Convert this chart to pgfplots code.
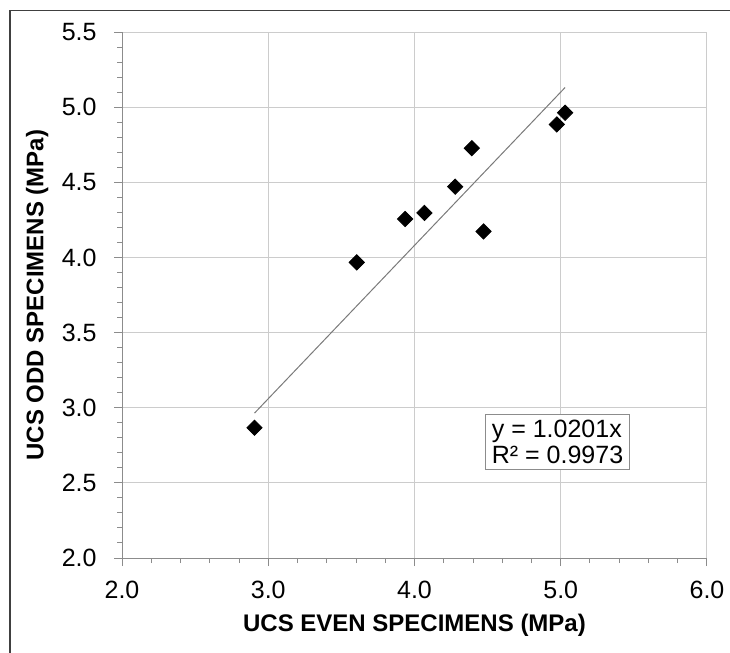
\documentclass[border=0pt]{standalone}
\usepackage{fontspec}
\setmainfont{Liberation Sans}
\usepackage{pgfplots}
\pgfplotsset{compat=1.18}
\definecolor{gridgray}{HTML}{CCCCCC}
\definecolor{axisgray}{HTML}{8C8C8C}
\definecolor{framegray}{HTML}{404040}
\definecolor{fitgray}{HTML}{7A7A7A}
\begin{document}
\fontsize{12}{14.4}\selectfont
\begin{tikzpicture}
\useasboundingbox (0,0) rectangle (365pt,-326.5pt);
\draw[framegray, line width=0.75pt] (5pt,-330pt) -- (5pt,-5.25pt) -- (370pt,-5.25pt);
\begin{axis}[
    at={(61pt,-279pt)}, anchor=south west,
    scale only axis, width=292.5pt, height=263pt,
    xmin=2, xmax=6, ymin=2, ymax=5.5,
    xtick={2,3,4,5,6}, ytick={2,2.5,3,3.5,4,4.5,5,5.5},
    minor x tick num=4, minor y tick num=4,
    axis x line*=bottom, axis y line*=left,
    axis line style={axisgray, line width=0.5pt, -},
    tick align=outside, tick style={axisgray, line width=0.5pt},
    major tick length=4pt, minor tick length=2.5pt,
    grid=major, major grid style={gridgray, line width=0.5pt},
    /pgf/number format/assume math mode=true,
    xticklabel={\pgfmathprintnumber[fixed,fixed zerofill,precision=1]{\tick}},
    yticklabel={\pgfmathprintnumber[fixed,fixed zerofill,precision=1]{\tick}},
    tick label style={font=\fontsize{12.5}{15}\selectfont},
    xticklabel style={anchor=north, inner sep=0pt, yshift=-7.5pt},
    yticklabel style={anchor=east, inner sep=0pt, xshift=-8.5pt},
    xlabel={\bfseries UCS EVEN SPECIMENS (MPa)},
    ylabel={\bfseries UCS ODD SPECIMENS (MPa)},
    xlabel style={at={(axis description cs:0.5,-0.1388)}, anchor=base, inner sep=0pt},
    ylabel style={at={(axis description cs:-0.1344,0.5)}, anchor=base, inner sep=0pt},
    clip=false,
]
\addplot[fitgray, line width=0.5pt] coordinates {(2.906,2.964) (5.030,5.131)};
\addplot[only marks, mark=square*, mark size=2.7pt, mark options={rotate=45, fill=black, draw=black}]
coordinates {
(2.906,2.867) (3.605,3.967) (3.936,4.256) (4.068,4.296) (4.278,4.471)
(4.392,4.727) (4.472,4.173) (4.973,4.885) (5.030,4.963)
};
\node[draw=axisgray, line width=0.5pt, fill=white, align=left, inner xsep=3.2pt, inner ysep=3pt,
      font=\fontsize{12.5}{13}\selectfont] at (axis cs:4.978,2.772) {y = 1.0201x\\R² = 0.9973};
\end{axis}
\end{tikzpicture}
\end{document}
